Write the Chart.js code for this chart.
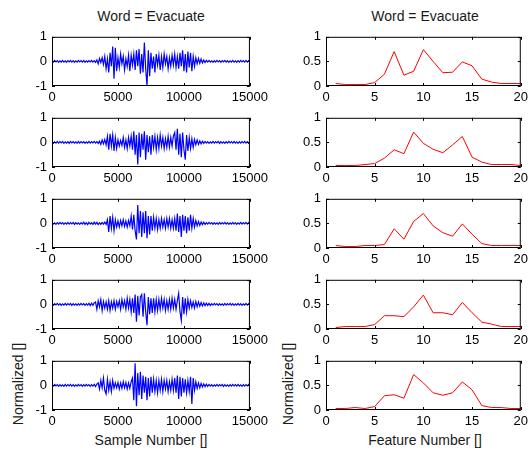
<!DOCTYPE html>
<html>
<head>
<meta charset="utf-8">
<script src="https://cdn.jsdelivr.net/npm/chart.js@4.4.1/dist/chart.umd.min.js"></script>
<style>
body{margin:0;background:#fff;width:532px;height:451px;overflow:hidden;position:relative;font-family:"Liberation Sans",Arial,sans-serif;color:#1a1a1a}
canvas{position:absolute}
.lbl{position:absolute;font-size:14px;white-space:nowrap;transform:translate(-50%,-50%)}
.rot{transform:translate(-50%,-50%) rotate(-90deg)}
</style>
</head>
<body>
<div class="lbl" style="left:151px;top:16px">Word = Evacuate</div>
<div class="lbl" style="left:425px;top:16px">Word = Evacuate</div>
<div class="lbl" style="left:151px;top:440px">Sample Number []</div>
<div class="lbl" style="left:425px;top:440px">Feature Number []</div>
<div class="lbl rot" style="left:18px;top:384px">Normalized []</div>
<div class="lbl rot" style="left:288px;top:384px">Normalized []</div>
<script>
// --- Datos ---
const SAMPLE_STEP = 100; // muestras entre puntos leidos
const featureNumbers = [1,2,3,4,5,6,7,8,9,10,11,12,13,14,15,16,17,18,19,20];

// formas de onda normalizadas (5 grabaciones), un valor cada 100 muestras
const wave1 = [
  0.03,-0.03,0.04,-0.02,0.03,-0.04,0.02,-0.03,0.04,-0.03,
  0.02,-0.04,0.03,-0.02,0.04,-0.03,0.03,-0.04,0.02,-0.03,
  0.04,-0.02,0.03,-0.03,0.04,-0.04,0.02,-0.03,0.03,-0.02,
  0.04,-0.03,0.03,-0.04,
  0.06,-0.1,0.12,-0.05,0.15,-0.12,
  0.2,-0.3,0.1,-0.45,0.35,-0.2,0.6,-0.7,0.55,-0.4,
  0.15,-0.25,0.3,-0.1,0.2,-0.35,0.1,-0.2,0.25,-0.4,
  0.25,-0.15,0.3,-0.35,0.45,-0.2,0.5,-0.5,0.3,-0.45,
  0.77,-0.3,-1.0,0.45,-0.6,0.35,
  -0.3,0.2,-0.45,0.3,-0.15,0.25,-0.35,0.2,-0.25,0.3,-0.1,0.2,-0.3,0.15,
  -0.2,0.25,-0.15,0.3,-0.25,0.2,-0.3,0.35,
  -0.2,0.45,-0.4,0.3,-0.45,0.4,-0.25,0.35,-0.4,0.2,
  -0.2,0.15,-0.1,0.12,-0.08,0.1,-0.06,0.05,-0.05,0.04,
  -0.03,0.04,-0.03,0.02,-0.04,0.03,-0.03,0.04,-0.02,0.03,
  -0.04,0.03,-0.02,0.04,-0.03,0.03,-0.04,0.02,-0.03,0.04,
  -0.03,0.02,-0.04,0.03,-0.03,0.04,-0.02,0.03,-0.03,0.04,
  -0.03,0.03,-0.02];
const wave2 = [
  0.03,-0.04,0.02,-0.03,0.04,-0.03,0.03,-0.02,0.04,-0.04,
  0.02,-0.03,0.03,-0.04,0.04,-0.02,0.03,-0.03,0.02,-0.04,
  0.04,-0.03,0.03,-0.02,0.03,-0.04,0.02,-0.03,0.04,-0.03,
  0.03,-0.02,0.04,-0.03,0.03,-0.04,
  0.05,-0.08,0.1,-0.06,0.12,-0.1,
  0.25,-0.3,0.35,-0.15,0.3,-0.35,0.2,-0.25,
  0.1,-0.15,0.08,-0.12,
  0.2,-0.2,0.1,-0.25,0.2,-0.15,0.25,-0.3,
  0.45,-0.5,0.3,-0.9,0.4,-0.6,
  0.35,-0.3,0.45,-0.7,0.3,-0.4,0.25,
  -0.5,0.3,-0.2,0.25,-0.3,0.2,-0.25,0.3,-0.15,0.2,-0.25,0.15,-0.2,0.25,-0.2,0.2,-0.15,0.25,
  0.4,-0.3,0.55,-0.5,0.35,-0.6,0.4,-0.3,-0.7,
  0.3,-0.35,0.2,-0.25,0.15,-0.2,0.12,
  -0.1,0.1,-0.08,0.06,-0.06,0.05,-0.04,0.04,
  -0.03,0.03,-0.04,0.02,-0.03,0.04,-0.03,0.03,-0.02,0.04,
  -0.04,0.03,-0.03,0.02,-0.04,0.03,-0.03,0.04,-0.02,0.03,
  -0.03,0.04,-0.03,0.02,-0.04,0.03,-0.03,0.03,-0.02,0.04,
  -0.03,0.03,-0.04,0.02];
const wave3 = [
  0.03,-0.03,0.02,-0.04,0.03,-0.03,0.04,-0.02,0.03,-0.04,
  0.02,-0.03,0.04,-0.03,0.03,-0.02,0.04,-0.04,0.03,-0.03,
  0.02,-0.04,0.03,-0.03,0.05,-0.04,0.03,-0.05,0.04,-0.03,
  0.03,-0.04,0.05,-0.03,0.04,-0.05,0.03,-0.04,0.04,-0.03,
  0.05,-0.04,
  0.15,-0.35,0.3,-0.2,0.25,-0.3,0.15,-0.15,
  0.1,-0.15,0.12,-0.1,0.15,-0.12,0.1,-0.15,0.12,-0.1,
  0.3,-0.25,0.35,-0.3,-0.65,
  0.75,-0.4,0.5,-0.55,0.45,
  -0.4,0.5,-0.6,0.3,-0.45,0.3,
  -0.3,0.25,-0.2,0.2,-0.25,0.15,-0.2,0.2,-0.15,0.15,-0.2,0.2,-0.15,0.2,-0.2,0.15,-0.2,0.2,
  -0.3,0.4,-0.35,0.3,-0.55,0.35,-0.3,
  0.3,-0.4,0.25,-0.3,0.35,-0.2,0.2,-0.15,
  0.12,-0.1,0.08,-0.08,0.06,-0.05,0.05,-0.04,
  0.03,-0.03,0.04,-0.02,0.03,-0.04,0.03,-0.03,0.02,-0.04,
  0.04,-0.03,0.03,-0.02,0.04,-0.03,0.03,-0.04,0.02,-0.03,
  0.04,-0.03,0.03,-0.04,0.02,-0.03,0.04,-0.03,0.03,-0.02,
  0.04,-0.03,0.03,-0.04];
const wave4 = [
  0.03,-0.04,0.03,-0.02,0.04,-0.03,0.03,-0.04,0.02,-0.03,
  0.04,-0.03,0.03,-0.02,0.04,-0.04,0.03,-0.03,0.02,-0.04,
  0.03,-0.03,0.04,-0.02,0.03,-0.04,0.03,-0.03,0.04,-0.05,
  0.05,-0.04,0.06,
  0.1,-0.2,0.15,-0.1,0.2,-0.25,0.12,-0.15,0.1,
  -0.2,0.15,-0.25,0.1,-0.15,0.15,-0.2,0.12,-0.1,
  0.15,-0.2,0.2,-0.1,0.15,-0.2,0.25,-0.15,0.2,-0.3,0.25,
  -0.35,0.4,-0.7,0.35,-0.45,0.3,0.4,-0.5,
  0.45,-0.3,-0.85,0.3,-0.4,0.25,
  -0.35,0.25,-0.3,0.2,-0.25,0.2,-0.2,0.25,-0.15,0.2,-0.25,0.15,-0.2,0.2,-0.2,0.25,-0.15,0.2,-0.2,0.15,
  0.45,-0.3,-0.65,0.3,-0.4,0.25,-0.3,0.2,
  -0.15,0.15,-0.12,0.1,-0.15,0.12,-0.1,0.1,-0.08,0.08,-0.06,
  0.06,-0.05,0.05,-0.04,0.04,-0.04,
  0.03,-0.03,0.04,-0.02,0.03,-0.04,0.03,-0.03,0.02,-0.04,
  0.04,-0.03,0.03,-0.02,0.04,-0.03,0.03,-0.04,0.02,-0.03,
  0.04,-0.03,0.03,-0.04,0.02,-0.03,0.04,-0.03,0.03,-0.02];
const wave5 = [
  0.03,-0.03,0.04,-0.02,0.03,-0.04,0.03,-0.03,0.02,-0.04,
  0.04,-0.03,0.03,-0.02,0.04,-0.03,0.03,-0.04,0.02,-0.03,
  0.04,-0.02,0.03,-0.04,0.03,-0.03,0.04,-0.02,0.03,-0.04,
  0.03,-0.03,0.04,-0.05,0.05,
  0.1,-0.15,0.2,-0.1,0.3,-0.2,-0.35,
  0.25,-0.2,0.15,-0.25,0.2,-0.12,0.1,
  -0.1,0.12,-0.15,0.1,-0.12,0.15,-0.1,0.12,-0.15,0.1,-0.12,0.15,
  0.3,-0.6,0.9,-0.85,0.5,-0.4,0.55,
  -0.55,0.4,-0.3,0.35,-0.6,0.3,-0.45,0.35,-0.3,
  0.25,-0.25,0.2,-0.3,0.2,-0.2,0.25,-0.25,0.2,-0.15,0.2,-0.25,0.15,-0.2,0.25,-0.2,
  0.3,-0.3,0.4,-0.55,0.35,-0.45,0.3,-0.3,
  0.25,-0.3,0.2,-0.25,0.35,-0.75,
  0.3,-0.2,0.15,-0.12,0.1,-0.1,0.08,-0.06,
  0.06,-0.05,0.05,-0.04,0.04,
  -0.03,0.03,-0.04,0.02,-0.03,0.04,-0.03,0.03,-0.02,0.04,
  -0.04,0.03,-0.03,0.02,-0.04,0.03,-0.03,0.04,-0.02,0.03,
  -0.03,0.04,-0.03,0.02,-0.04,0.03,-0.03,0.03,-0.02,0.04,
  -0.03];

// caracteristicas (20 por grabacion)
const feat1 = [0.05,0.03,0.03,0.03,0.07,0.24,0.70,0.22,0.30,0.74,0.50,0.27,0.28,0.49,0.41,0.14,0.08,0.05,0.05,0.05];
const feat2 = [0.03,0.03,0.03,0.05,0.07,0.18,0.35,0.27,0.71,0.48,0.36,0.29,0.45,0.62,0.20,0.10,0.05,0.05,0.05,0.03];
const feat3 = [0.05,0.03,0.03,0.05,0.05,0.07,0.39,0.18,0.54,0.70,0.45,0.31,0.24,0.49,0.28,0.09,0.05,0.05,0.05,0.05];
const feat4 = [0.03,0.05,0.05,0.05,0.09,0.27,0.27,0.25,0.45,0.69,0.33,0.33,0.29,0.54,0.33,0.14,0.10,0.05,0.05,0.05];
const feat5 = [0.03,0.03,0.05,0.03,0.07,0.29,0.31,0.24,0.72,0.55,0.35,0.30,0.35,0.57,0.41,0.09,0.05,0.05,0.03,0.03];

const waves = [wave1,wave2,wave3,wave4,wave5];
const feats = [feat1,feat2,feat3,feat4,feat5];

// --- Layout ---
const rowTops = [34,115,196,277,358];
const PLOT_H = 52, PAD_TOP = 10, XAXIS_H = 22;

Chart.defaults.color = '#000';
Chart.defaults.font.family = '"Liberation Sans", Arial, sans-serif';
Chart.defaults.font.size = 13;

// caja con marcas hacia dentro, estilo matlab
const boxPlugin = {
  id:'box',
  afterDatasetsDraw(chart){
    const {ctx, chartArea:a, scales} = chart;
    ctx.save();
    ctx.strokeStyle='#000'; ctx.lineWidth=1;
    ctx.strokeRect(a.left+0.5, a.top+0.5, a.right-a.left-1, a.bottom-a.top-1);
    ctx.beginPath();
    scales.x.ticks.forEach(t=>{
      const px = Math.round(scales.x.getPixelForValue(t.value))+0.5;
      ctx.moveTo(px,a.bottom); ctx.lineTo(px,a.bottom-3);
      ctx.moveTo(px,a.top); ctx.lineTo(px,a.top+3);
    });
    scales.y.ticks.forEach(t=>{
      const py = Math.round(scales.y.getPixelForValue(t.value))+0.5;
      ctx.moveTo(a.left,py); ctx.lineTo(a.left+3,py);
      ctx.moveTo(a.right,py); ctx.lineTo(a.right-3,py);
    });
    ctx.stroke();
    ctx.restore();
  }
};

function makeChart(left, top, width, yw, padRight, points, color, lw, xr, yr){
  const c = document.createElement('canvas');
  const h = PAD_TOP + PLOT_H + XAXIS_H;
  c.width = width; c.height = h;
  c.style.left = left+'px'; c.style.top = (top-PAD_TOP)+'px';
  c.style.width = width+'px'; c.style.height = h+'px';
  document.body.appendChild(c);
  return new Chart(c, {
    type:'line',
    data:{ datasets:[{ data:points, borderColor:color, borderWidth:lw, pointRadius:0, tension:0, fill:false }] },
    options:{
      responsive:false, animation:false, devicePixelRatio:1,
      layout:{ padding:{ top:PAD_TOP, right:padRight, bottom:0, left:0 } },
      plugins:{ legend:{display:false}, tooltip:{enabled:false} },
      scales:{
        x:{ type:'linear', min:xr[0], max:xr[1],
            grid:{display:false, drawTicks:false}, border:{display:false},
            ticks:{ stepSize:xr[2], padding:4, maxRotation:0, callback:v=>String(v) },
            afterFit:s=>{ s.height = XAXIS_H; } },
        y:{ min:yr[0], max:yr[1],
            grid:{display:false, drawTicks:false}, border:{display:false},
            ticks:{ stepSize:yr[2], padding:5, callback:v=>String(v) },
            afterFit:s=>{ s.width = yw; } }
      }
    },
    plugins:[boxPlugin]
  });
}

rowTops.forEach((top,r)=>{
  const w = waves[r].map((v,i)=>({x:i*SAMPLE_STEP, y:v}));
  makeChart(0, top, 272, 52, 22, w, '#0000ff', 1.2, [0,15000,5000], [-1,1,1]);
  const f = feats[r].map((v,i)=>({x:featureNumbers[i], y:v}));
  makeChart(270, top, 262, 56, 7, f, '#ff0000', 1, [0,20,5], [0,1,0.5]);
});
</script>
</body>
</html>
